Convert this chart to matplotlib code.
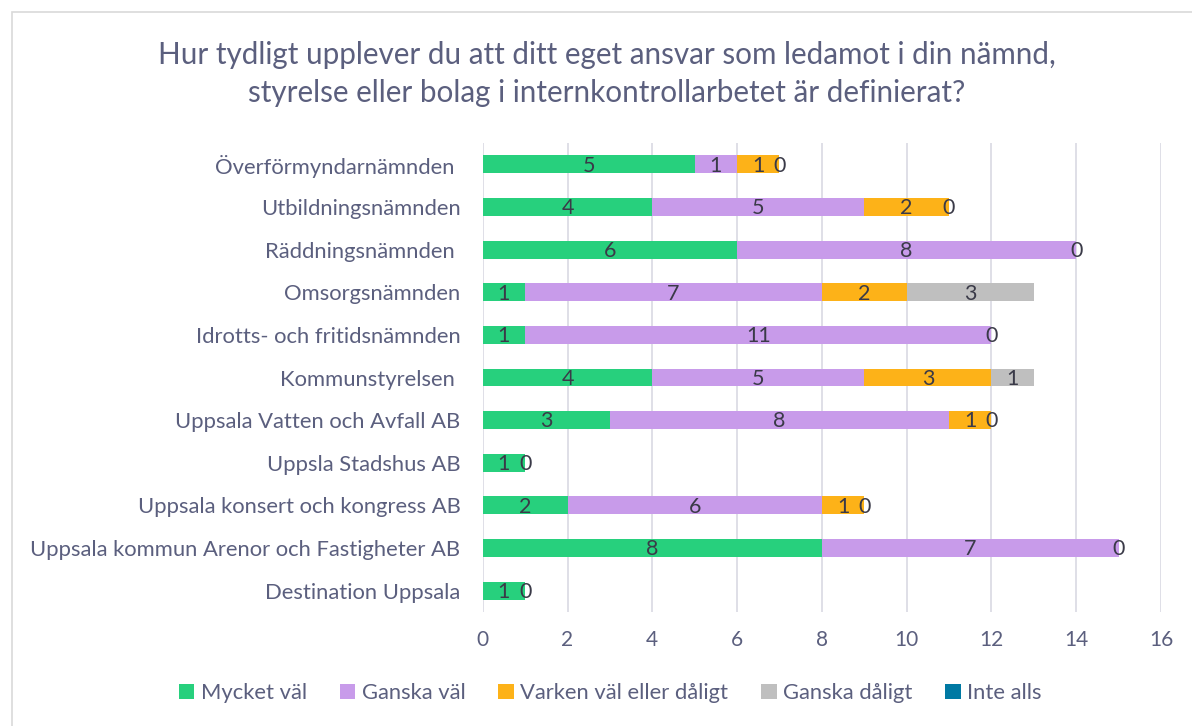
import matplotlib.pyplot as plt
import numpy as np
from matplotlib.patches import Rectangle

plt.rcParams['font.family'] = ['Lato', 'DejaVu Sans']

# Data (top to bottom as in the chart); None = no value
categories = ['Överförmyndarnämnden ', 'Utbildningsnämnden', 'Räddningsnämnden ',
              'Omsorgsnämnden', 'Idrotts- och fritidsnämnden', 'Kommunstyrelsen ',
              'Uppsala Vatten och Avfall AB', 'Uppsla Stadshus AB',
              'Uppsala konsert och kongress AB', 'Uppsala kommun Arenor och Fastigheter AB',
              'Destination Uppsala']
mycket_val = [5, 4, 6, 1, 1, 4, 3, 1, 2, 8, 1]
ganska_val = [1, 5, 8, 7, 11, 5, 8, None, 6, 7, None]
varken = [1, 2, None, 2, None, 3, 1, None, 1, None, None]
ganska_daligt = [None, None, None, 3, None, 1, None, None, None, None, None]
inte_alls = [0, 0, 0, None, 0, None, 0, 0, 0, 0, 0]

series = [('Mycket väl', mycket_val, '#27D07D'),
          ('Ganska väl', ganska_val, '#C89BEA'),
          ('Varken väl eller dåligt', varken, '#FDB218'),
          ('Ganska dåligt', ganska_daligt, '#BFBFBF'),
          ('Inte alls', inte_alls, '#0079A3')]

text_col = '#5B5F7E'
label_col = '#3A3A48'

fig = plt.figure(figsize=(11.92, 7.26), dpi=100)
ax = fig.add_axes([0.405, 0.157, 0.569, 0.646])

y = np.arange(len(categories))
left = np.zeros(len(categories))
for name, vals, col in series:
    v = np.array([0 if x is None else x for x in vals], dtype=float)
    ax.barh(y, v, left=left, height=0.42, color=col, label=name, zorder=3)
    for i, x in enumerate(vals):
        if x is None:
            continue
        ax.text(left[i] + v[i] / 2, y[i] + 0.03, str(x), ha='center', va='center',
                fontsize=15.5, color=label_col, zorder=4)
    left += v

ax.set_ylim(len(categories) - 0.5, -0.5)
ax.set_xlim(0, 16)
ax.set_xticks(range(0, 17, 2))
ax.set_yticks(y)
ax.set_yticklabels(categories, fontsize=15.8, color=text_col)
ax.tick_params(axis='x', labelsize=15, colors=text_col, length=0, pad=13)
ax.tick_params(axis='y', length=0, pad=16)
ax.grid(axis='x', color='#D9D9E3', linewidth=1.2, zorder=0)
for s in ax.spines.values():
    s.set_visible(False)

fig.text(0.509, 0.898, 'Hur tydligt upplever du att ditt eget ansvar som ledamot i din nämnd,\n'
         'styrelse eller bolag i internkontrollarbetet är definierat?',
         ha='center', va='center', fontsize=21.3, color=text_col, linespacing=1.45)

fig.legend(loc='center', bbox_to_anchor=(0.512, 0.045), ncol=5, frameon=False,
           fontsize=15.8, labelcolor=text_col, handlelength=0.7, handleheight=0.7,
           handletextpad=0.3, columnspacing=1.5)

fig.patches.append(Rectangle((0.01, -0.01), 1.0, 0.994, transform=fig.transFigure,
                             fill=False, edgecolor='#D9D9D9', linewidth=1.2))

fig.savefig('out.png', dpi=100)
